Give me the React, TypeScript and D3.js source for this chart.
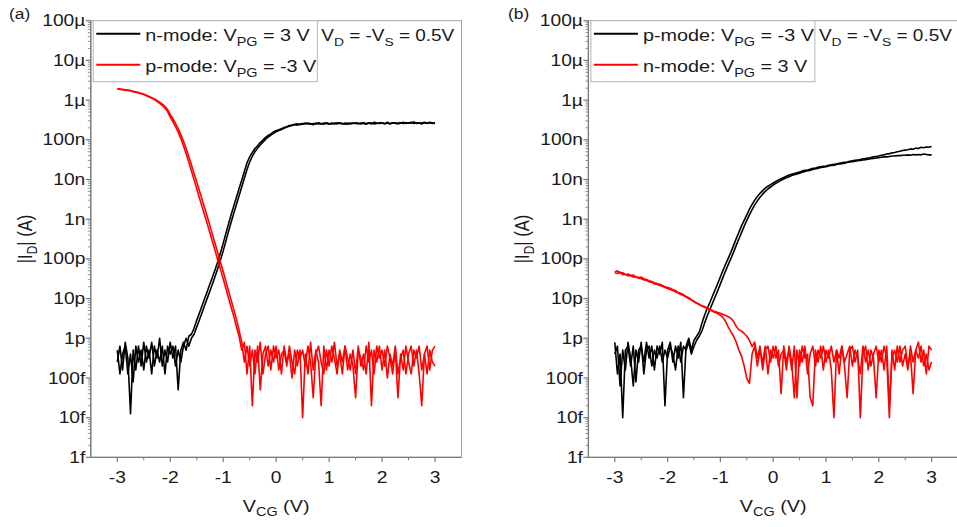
import React from "react";
import * as d3 from "d3";

// Gate-voltage sweep grid (V), -3 V to 3 V in 0.05 V steps
const VCG = d3.range(121).map((i) => -3 + i * 0.05);

const X_TICKS = [-3, -2, -1, 0, 1, 2, 3];
const Y_TICKS = [1e-15, 1e-14, 1e-13, 1e-12, 1e-11, 1e-10, 1e-9, 1e-8, 1e-7, 1e-6, 1e-5, 1e-4];
const Y_TICK_LABELS = ["1f", "10f", "100f", "1p", "10p", "100p", "1n", "10n", "100n", "1µ", "10µ", "100µ"];

// log10(|I_D| / A) on the VCG grid
// Panel (a): n-mode, V_PG = 3 V (black), two sweeps
const aNmode1 = [
  -12.6, -12.2, -12.8, -12.1, -12.5, -13.9, -12.3, -12.8, -12.2, -12.7,
  -12.1, -12.6, -12.3, -12.9, -12.2, -12.5, -12.0, -12.7, -12.3, -12.6,
  -12.1, -12.5, -12.2, -13.3, -12.3, -12.1, -12.3, -11.95, -11.9, -11.75,
  -11.55, -11.37, -11.18, -11.0, -10.82, -10.63, -10.45, -10.26, -10.06, -9.84,
  -9.61, -9.36, -9.12, -8.89, -8.67, -8.45, -8.23, -8.02, -7.8, -7.58,
  -7.43, -7.32, -7.22, -7.15, -7.07, -7.01, -6.94, -6.89, -6.85, -6.8,
  -6.77, -6.75, -6.72, -6.69, -6.67, -6.64, -6.63, -6.61, -6.6, -6.62,
  -6.59, -6.6, -6.58, -6.61, -6.59, -6.6, -6.57, -6.6, -6.58, -6.59,
  -6.61, -6.58, -6.6, -6.57, -6.59, -6.6, -6.58, -6.61, -6.58, -6.59,
  -6.57, -6.6, -6.58, -6.59, -6.61, -6.57, -6.58, -6.6, -6.59, -6.57,
  -6.58, -6.6, -6.56, -6.59, -6.58, -6.57, -6.6, -6.58, -6.56, -6.59,
  -6.57, -6.58, -6.55, -6.59, -6.57, -6.58, -6.56, -6.58, -6.57, -6.59,
  -6.58,
];
const aNmode2 = [
  -12.3, -12.9, -12.4, -12.2, -12.9, -12.4, -13.1, -12.2, -12.6, -12.3,
  -12.8, -12.2, -12.5, -12.1, -12.7, -12.3, -12.6, -12.2, -12.9, -12.2,
  -12.4, -12.2, -12.7, -12.3, -12.6, -12.2, -12.0, -12.2, -12.0, -11.9,
  -11.72, -11.54, -11.36, -11.17, -10.99, -10.81, -10.62, -10.43, -10.23, -10.02,
  -9.8, -9.56, -9.31, -9.08, -8.85, -8.63, -8.41, -8.19, -7.97, -7.75,
  -7.56, -7.42, -7.3, -7.21, -7.13, -7.06, -6.99, -6.93, -6.88, -6.84,
  -6.8, -6.77, -6.74, -6.71, -6.68, -6.66, -6.64, -6.62, -6.63, -6.6,
  -6.61, -6.58, -6.6, -6.59, -6.62, -6.58, -6.6, -6.59, -6.61, -6.57,
  -6.59, -6.6, -6.58, -6.6, -6.57, -6.59, -6.61, -6.58, -6.6, -6.58,
  -6.59, -6.58, -6.6, -6.57, -6.59, -6.58, -6.6, -6.56, -6.58, -6.59,
  -6.57, -6.59, -6.58, -6.6, -6.57, -6.59, -6.58, -6.57, -6.59, -6.57,
  -6.58, -6.56, -6.59, -6.57, -6.58, -6.6, -6.57, -6.59, -6.56, -6.58,
  -6.57,
];
// Panel (a): p-mode, V_PG = -3 V (red), two sweeps
const aPmode1 = [
  -5.71, -5.72, -5.73, -5.74, -5.75, -5.76, -5.78, -5.79, -5.81, -5.83,
  -5.86, -5.89, -5.92, -5.95, -5.99, -6.03, -6.08, -6.13, -6.2, -6.29,
  -6.43, -6.54, -6.67, -6.81, -6.97, -7.15, -7.35, -7.56, -7.78, -8.01,
  -8.23, -8.46, -8.68, -8.9, -9.12, -9.35, -9.58, -9.81, -10.04, -10.27,
  -10.5, -10.74, -10.98, -11.22, -11.45, -11.71, -11.95, -12.3, -12.1, -12.9,
  -12.2, -13.7, -12.3, -12.6, -12.1, -12.9, -12.4, -12.2, -12.8, -12.2,
  -12.5, -12.3, -12.9, -12.2, -12.6, -12.4, -13.0, -12.3, -12.7, -12.3,
  -14.0, -12.4, -12.9, -12.1, -12.8, -12.3, -12.6, -13.7, -12.2, -12.8,
  -12.3, -12.6, -12.1, -12.7, -12.4, -12.9, -12.2, -12.5, -12.8, -12.3,
  -12.9, -12.2, -12.7, -12.4, -12.9, -12.1, -13.7, -12.3, -12.6, -12.2,
  -12.8, -12.3, -13.0, -12.4, -12.7, -12.2, -12.9, -12.5, -12.3, -12.9,
  -12.4, -12.2, -12.7, -12.3, -12.9, -13.7, -12.4, -12.2, -12.8, -12.3,
  -12.2,
];
const aPmode2 = [
  -5.72, -5.73, -5.74, -5.75, -5.76, -5.77, -5.79, -5.8, -5.82, -5.84,
  -5.85, -5.88, -5.91, -5.94, -5.97, -6.01, -6.05, -6.1, -6.16, -6.24,
  -6.36, -6.47, -6.59, -6.72, -6.87, -7.04, -7.22, -7.42, -7.63, -7.85,
  -8.06, -8.28, -8.5, -8.72, -8.94, -9.17, -9.4, -9.63, -9.86, -10.09,
  -10.32, -10.56, -10.8, -11.04, -11.28, -11.52, -11.8, -12.1, -12.6, -12.2,
  -12.7, -12.3, -12.9, -12.2, -13.3, -12.4, -12.2, -12.7, -12.3, -12.6,
  -12.2, -12.8, -12.4, -12.3, -12.7, -12.2, -12.6, -12.9, -12.3, -12.5,
  -12.3, -12.7, -12.2, -12.6, -13.5, -12.4, -12.2, -12.6, -12.9, -12.3,
  -12.7, -12.2, -12.5, -12.9, -12.3, -12.6, -12.2, -12.8, -12.4, -12.7,
  -13.5, -12.3, -12.5, -12.8, -12.2, -12.6, -12.3, -12.9, -12.2, -12.5,
  -12.3, -12.7, -12.2, -12.5, -12.9, -12.3, -13.5, -12.4, -12.8, -12.2,
  -12.6, -12.9, -12.3, -12.5, -12.2, -12.8, -12.4, -12.9, -12.3, -12.6,
  -12.7,
];
// Panel (b): p-mode, V_PG = -3 V (black), two sweeps
const bPmode1 = [
  -12.1, -12.9, -12.4, -14.0, -12.3, -12.2, -12.7, -12.2, -13.1, -12.3,
  -12.2, -12.6, -12.1, -12.5, -12.2, -12.8, -12.2, -12.4, -12.1, -13.7,
  -12.3, -12.1, -12.6, -12.2, -12.5, -12.1, -13.5, -12.2, -12.0, -12.3,
  -12.05, -11.95, -11.85, -11.62, -11.42, -11.25, -11.1, -10.94, -10.78, -10.62,
  -10.45, -10.29, -10.13, -9.98, -9.83, -9.66, -9.49, -9.33, -9.17, -9.03,
  -8.89, -8.75, -8.63, -8.52, -8.43, -8.35, -8.28, -8.22, -8.17, -8.13,
  -8.09, -8.05, -8.01, -7.98, -7.95, -7.92, -7.89, -7.87, -7.85, -7.83,
  -7.81, -7.79, -7.77, -7.76, -7.74, -7.72, -7.71, -7.69, -7.68, -7.67,
  -7.66, -7.64, -7.63, -7.62, -7.61, -7.59, -7.58, -7.57, -7.56, -7.54,
  -7.53, -7.52, -7.51, -7.5, -7.48, -7.47, -7.46, -7.45, -7.43, -7.42,
  -7.41, -7.39, -7.38, -7.36, -7.35, -7.33, -7.32, -7.3, -7.29, -7.27,
  -7.26, -7.25, -7.23, -7.24, -7.21, -7.22, -7.19, -7.2, -7.18, -7.19,
  -7.17,
];
const bPmode2 = [
  -12.4, -12.2, -13.2, -12.3, -12.8, -12.1, -12.5, -13.2, -12.3, -12.6,
  -12.1, -12.9, -12.3, -12.2, -12.7, -12.3, -12.5, -12.2, -12.6, -12.3,
  -12.5, -12.2, -12.4, -12.8, -12.2, -12.6, -12.2, -12.3, -12.1, -12.4,
  -12.2, -12.05, -11.95, -11.82, -11.62, -11.44, -11.28, -11.12, -10.96, -10.8,
  -10.63, -10.46, -10.3, -10.14, -9.99, -9.83, -9.66, -9.5, -9.34, -9.18,
  -9.03, -8.89, -8.76, -8.64, -8.54, -8.45, -8.37, -8.3, -8.24, -8.19,
  -8.14, -8.1, -8.06, -8.02, -7.99, -7.96, -7.93, -7.9, -7.88, -7.86,
  -7.84, -7.82, -7.8, -7.78, -7.77, -7.75, -7.73, -7.72, -7.7, -7.69,
  -7.68, -7.66, -7.65, -7.64, -7.62, -7.61, -7.6, -7.59, -7.57, -7.56,
  -7.55, -7.54, -7.53, -7.52, -7.51, -7.5, -7.49, -7.48, -7.47, -7.46,
  -7.45, -7.44, -7.43, -7.43, -7.42, -7.41, -7.41, -7.4, -7.4, -7.39,
  -7.39, -7.38, -7.39, -7.37, -7.38, -7.37, -7.38, -7.36, -7.37, -7.38,
  -7.38,
];
// Panel (b): n-mode, V_PG = 3 V (red), two sweeps
const bNmode1 = [
  -10.33, -10.3, -10.36, -10.35, -10.4, -10.38, -10.42, -10.41, -10.45, -10.47,
  -10.46, -10.5, -10.52, -10.55, -10.57, -10.6, -10.62, -10.64, -10.67, -10.7,
  -10.72, -10.74, -10.78, -10.8, -10.85, -10.87, -10.9, -10.95, -10.98, -11.03,
  -11.07, -11.12, -11.15, -11.18, -11.2, -11.24, -11.27, -11.3, -11.33, -11.35,
  -11.37, -11.4, -11.43, -11.46, -11.5, -11.58, -11.7, -11.79, -11.82, -11.88,
  -11.95, -12.05, -12.21, -12.1, -12.5, -12.2, -12.8, -12.3, -12.2, -12.6,
  -12.2, -12.5, -12.3, -13.4, -12.2, -12.6, -12.3, -12.8, -12.2, -13.5,
  -12.3, -12.6, -12.2, -12.9, -12.4, -12.2, -12.7, -12.3, -12.5, -12.2,
  -12.6, -12.3, -12.8, -14.0, -12.3, -12.5, -12.2, -12.7, -13.5, -12.3,
  -12.2, -12.6, -12.3, -14.0, -12.4, -12.2, -12.8, -12.3, -12.5, -13.5,
  -12.3, -12.6, -12.2, -12.5, -14.0, -12.3, -12.8, -12.2, -12.6, -12.3,
  -12.2, -12.7, -12.4, -13.4, -12.3, -12.1, -12.6, -12.3, -12.9, -12.2,
  -12.3,
];
const bNmode2 = [
  -10.35, -10.37, -10.33, -10.4, -10.39, -10.43, -10.42, -10.46, -10.45, -10.49,
  -10.5, -10.53, -10.54, -10.58, -10.59, -10.63, -10.64, -10.67, -10.69, -10.72,
  -10.75, -10.77, -10.8, -10.83, -10.86, -10.9, -10.92, -10.96, -11.0, -11.04,
  -11.08, -11.11, -11.15, -11.19, -11.22, -11.25, -11.29, -11.32, -11.35, -11.38,
  -11.42, -11.48, -11.58, -11.72, -11.84, -11.95, -12.1, -12.3, -12.45, -12.7,
  -13.01, -13.14, -12.4, -12.2, -12.7, -12.3, -12.6, -12.2, -12.9, -12.3,
  -12.5, -12.2, -12.7, -12.4, -12.3, -12.8, -12.2, -12.6, -13.5, -12.3,
  -12.7, -12.2, -12.5, -12.4, -13.5, -13.7, -12.3, -12.6, -12.2, -12.8,
  -12.3, -12.5, -12.2, -12.6, -12.3, -12.9, -12.2, -12.6, -12.4, -12.2,
  -12.7, -12.3, -12.5, -12.9, -12.2, -12.6, -12.3, -12.7, -12.4, -12.2,
  -12.6, -12.3, -12.8, -12.2, -13.7, -12.5, -12.3, -12.6, -12.2, -12.7,
  -12.4, -12.8, -12.2, -12.6, -12.3, -12.5, -12.2, -12.7, -12.4, -12.8,
  -12.6,
];

const FONT = "'Liberation Sans', Arial, Helvetica, sans-serif";
const AXIS = "#7a7a7a";
const TEXT = "#1a1a1a";
const RED = "#ff0000";
const BLACK = "#000000";
const SX = 1.2; // horizontal text stretch of the reference figure

type Series = { logI: number[]; color: string };
type LegendItem = { mode: string; vpg: string; color: string };

function T(props: {
  x: number;
  y: number;
  size: number;
  anchor?: string;
  children: React.ReactNode;
}) {
  const { x, y, size, anchor, children } = props;
  return (
    <text
      transform={`translate(${x},${y}) scale(${SX},1)`}
      textAnchor={anchor || "start"}
      fontSize={size}
      fill={TEXT}
      fontFamily={FONT}
    >
      {children}
    </text>
  );
}

function Panel(props: {
  left: number;
  right: number;
  tag: string;
  tagX: number;
  series: Series[];
  legend: LegendItem[];
}) {
  const { left, right, tag, tagX, series, legend } = props;
  const top = 20.7;
  const bottom = 457.3;
  const x = d3.scaleLinear().domain([-3.5, 3.5]).range([left, right]);
  const y = d3.scaleLog().domain([1e-15, 1e-4]).range([bottom, top]);
  const line = d3
    .line<[number, number]>()
    .x((d) => x(d[0]))
    .y((d) => y(Math.pow(10, d[1])));

  const minorY: number[] = [];
  for (let e = -15; e < -4; e++) {
    for (let m = 2; m <= 9; m++) minorY.push(m * Math.pow(10, e));
  }
  const minorX = [-2.5, -1.5, -0.5, 0.5, 1.5, 2.5];
  const cx = x(0);
  const legW = 224;
  const legH = 61;
  const legX = left + 2.5;

  return (
    <g>
      <T x={tagX} y={19} size={14.5}>
        {tag}
      </T>
      {/* frame */}
      <rect x={left} y={top} width={right - left} height={bottom - top} fill="none" stroke="#a0a0a0" strokeWidth={1} />
      <line x1={left} x2={left} y1={top} y2={bottom} stroke={AXIS} strokeWidth={1.3} />
      <line x1={left} x2={right} y1={bottom} y2={bottom} stroke={AXIS} strokeWidth={1.3} />
      {/* y ticks */}
      {Y_TICKS.map((t, i) => (
        <g key={"yt" + i}>
          <line x1={left - 5} x2={left} y1={y(t)} y2={y(t)} stroke={AXIS} strokeWidth={1.2} />
          <T x={left - 5.5} y={y(t) + 5.6} size={16} anchor="end">
            {Y_TICK_LABELS[i]}
          </T>
        </g>
      ))}
      {minorY.map((t, i) => (
        <line key={"ym" + i} x1={left - 3} x2={left} y1={y(t)} y2={y(t)} stroke={AXIS} strokeWidth={0.8} />
      ))}
      {/* x ticks */}
      {X_TICKS.map((t) => (
        <g key={"xt" + t}>
          <line x1={x(t)} x2={x(t)} y1={bottom} y2={bottom + 5} stroke={AXIS} strokeWidth={1.2} />
          <T x={x(t)} y={bottom + 26} size={16} anchor="middle">
            {t}
          </T>
        </g>
      ))}
      {minorX.map((t) => (
        <line key={"xm" + t} x1={x(t)} x2={x(t)} y1={bottom} y2={bottom + 3} stroke={AXIS} strokeWidth={1} />
      ))}
      {/* axis titles */}
      <T x={cx} y={512} size={16.5} anchor="middle">
        V
        <tspan fontSize={12} dy={4}>CG</tspan>
        <tspan dy={-4}> (V)</tspan>
      </T>
      <text
        transform={`translate(${left - 59},${(top + bottom) / 2}) rotate(-90) scale(1,${SX})`}
        textAnchor="middle"
        fontSize={16.5}
        fill={TEXT}
        fontFamily={FONT}
      >
        |I
        <tspan fontSize={12} dy={4}>D</tspan>
        <tspan dy={-4}>| (A)</tspan>
      </text>
      {/* data */}
      {series.map((s, i) => (
        <path
          key={"s" + i}
          d={line(VCG.map((v, k) => [v, s.logI[k]] as [number, number])) || ""}
          fill="none"
          stroke={s.color}
          strokeWidth={1.6}
          strokeLinejoin="round"
        />
      ))}
      {/* legend */}
      <rect x={legX} y={top} width={legW} height={legH} fill="white" stroke="#b4b4b4" strokeWidth={1} />
      {legend.map((it, i) => {
        const ly = top + 13 + i * 31;
        return (
          <g key={"lg" + i}>
            <line x1={legX + 3} x2={legX + 47} y1={ly} y2={ly} stroke={it.color} strokeWidth={2} />
            <T x={legX + 52} y={ly + 7.5} size={16.5}>
              {it.mode}: V
              <tspan fontSize={12} dy={5}>PG</tspan>
              <tspan dy={-5}>{" = " + it.vpg}</tspan>
            </T>
          </g>
        );
      })}
      <T x={legX + legW + 4} y={top + 20} size={15.8}>
        V
        <tspan fontSize={11.5} dy={5}>D</tspan>
        <tspan dy={-5}> = -V</tspan>
        <tspan fontSize={11.5} dy={5}>S</tspan>
        <tspan dy={-5}> = 0.5V</tspan>
      </T>
    </g>
  );
}

export default function App() {
  return (
    <svg
      width={957}
      height={527}
      style={{ position: "absolute", left: 0, top: 0, background: "white" }}
    >
      <rect width={957} height={527} fill="white" />
      <Panel
        left={90.8}
        right={461.5}
        tag="(a)"
        tagX={9}
        series={[
          { logI: aNmode1, color: BLACK },
          { logI: aNmode2, color: BLACK },
          { logI: aPmode1, color: RED },
          { logI: aPmode2, color: RED },
        ]}
        legend={[
          { mode: "n-mode", vpg: "3 V", color: BLACK },
          { mode: "p-mode", vpg: "-3 V", color: RED },
        ]}
      />
      <Panel
        left={588.4}
        right={958}
        tag="(b)"
        tagX={508}
        series={[
          { logI: bPmode1, color: BLACK },
          { logI: bPmode2, color: BLACK },
          { logI: bNmode1, color: RED },
          { logI: bNmode2, color: RED },
        ]}
        legend={[
          { mode: "p-mode", vpg: "-3 V", color: BLACK },
          { mode: "n-mode", vpg: "3 V", color: RED },
        ]}
      />
    </svg>
  );
}
